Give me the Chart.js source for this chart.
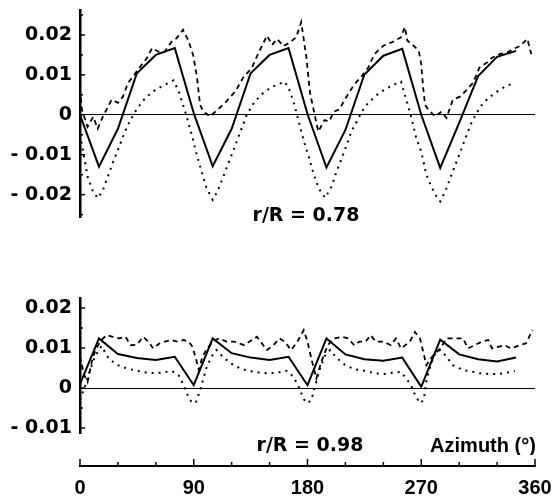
<!DOCTYPE html>
<html>
<head>
<meta charset="utf-8">
<script src="https://cdn.jsdelivr.net/npm/chart.js@4.4.1/dist/chart.umd.min.js"></script>
<style>
  html, body { margin: 0; padding: 0; background: #fff; }
  #wrap { position: relative; width: 557px; height: 499px; }
  canvas { position: absolute; left: 0; }
</style>
</head>
<body>
<div id="wrap">
  <canvas id="cTop" width="557" height="232" style="top:0px"></canvas>
  <canvas id="cBot" width="557" height="170" style="top:285px"></canvas>
  <canvas id="cAxis" width="557" height="54" style="top:445px"></canvas>
</div>
<script>
// r/R = 0.78
const azSolid78 = [0, 15, 30, 45, 60, 75, 90, 105, 120, 135, 150, 165, 180, 195, 210, 225, 240, 255, 270, 285, 300, 315, 330, 345];
const valSolid78 = [0, -0.0130, -0.0035, 0.0104, 0.0150, 0.0167, 0.0004, -0.0129, -0.0035, 0.0104, 0.0150, 0.0167, 0.0002, -0.0132, -0.0038, 0.0101, 0.0148, 0.0165, 0.0000, -0.0133, -0.0020, 0.0097, 0.0145, 0.0160];

const azDash78 = [0, 1.5, 6, 10.5, 14, 18, 21, 25, 30, 34, 38, 42, 47.5, 53, 57, 62, 67, 72.5, 76.5, 81.5, 85.5, 89.5, 92.5, 95, 97.5, 103, 109, 116, 123, 129, 136, 142, 148, 152, 156, 161, 166, 171, 175, 179, 182, 188.5, 193.5, 197, 201, 205, 211, 217, 222, 228, 233, 240, 247, 254, 257, 259, 264, 268, 270, 271.5, 273, 275.5, 281, 286, 290, 295, 301, 305, 311, 316, 322, 326, 332, 338, 343, 348, 354, 357];
const valDash78 = [0.0065, 0.0013, -0.0030, -0.0005, -0.0035, -0.0005, 0.0013, 0.0038, 0.0030, 0.0046, 0.0080, 0.0096, 0.0120, 0.0142, 0.0167, 0.0158, 0.0158, 0.0183, 0.0192, 0.0213, 0.0188, 0.0150, 0.0096, 0.0025, 0.0008, -0.0004, 0.0013, 0.0034, 0.0059, 0.0093, 0.0118, 0.0160, 0.0198, 0.0175, 0.0190, 0.0172, 0.0181, 0.0194, 0.0232, 0.0147, 0.0055, -0.0042, -0.0013, -0.0017, 0.0008, 0.0013, 0.0046, 0.0076, 0.0093, 0.0118, 0.0152, 0.0173, 0.0182, 0.0194, 0.0220, 0.0186, 0.0173, 0.0160, 0.0127, 0.0068, 0.0025, 0.0013, -0.0004, 0.0008, -0.0008, 0.0038, 0.0046, 0.0059, 0.0080, 0.0118, 0.0131, 0.0143, 0.0152, 0.0156, 0.0165, 0.0172, 0.0190, 0.0152];

const azDot78 = [0, 3, 6, 10, 14, 18, 22, 26, 30, 34, 38, 43, 50, 57, 65, 74, 78, 81, 84, 88, 92, 96, 100, 105, 109, 113, 117, 121, 125, 129, 132, 138, 145, 152, 162, 166, 169, 173, 177, 181, 185, 189, 194, 199, 203, 207, 211, 215, 219, 223, 228, 235, 241, 248, 254, 257, 260, 263, 266, 270, 274, 278, 282, 285, 289, 293, 297, 301, 305, 309, 313, 318, 323, 330, 336, 342];
const valDot78 = [-0.0050, -0.0100, -0.0155, -0.0190, -0.0209, -0.0190, -0.0155, -0.0120, -0.0088, -0.0055, -0.0025, 0.0005, 0.0036, 0.0057, 0.0072, 0.0086, 0.0060, 0.0030, 0.0000, -0.0045, -0.0095, -0.0140, -0.0182, -0.0213, -0.0190, -0.0158, -0.0125, -0.0092, -0.0058, -0.0025, 0.0000, 0.0032, 0.0055, 0.0070, 0.0083, 0.0060, 0.0032, -0.0015, -0.0065, -0.0105, -0.0150, -0.0185, -0.0208, -0.0180, -0.0142, -0.0110, -0.0075, -0.0040, -0.0017, 0.0008, 0.0030, 0.0050, 0.0063, 0.0075, 0.0083, 0.0050, 0.0017, -0.0017, -0.0058, -0.0092, -0.0150, -0.0180, -0.0204, -0.0217, -0.0192, -0.0158, -0.0125, -0.0092, -0.0058, -0.0025, 0.0000, 0.0025, 0.0042, 0.0058, 0.0070, 0.0078];

// r/R = 0.98
const azSolid98 = [0, 15, 30, 45, 60, 75, 90, 105, 120, 135, 150, 165, 180, 195, 210, 225, 240, 255, 270, 285, 300, 315, 330, 345];
const valSolid98 = [0.0010, 0.0124, 0.0085, 0.0075, 0.0070, 0.0078, 0.0007, 0.0124, 0.0087, 0.0076, 0.0070, 0.0078, 0.0007, 0.0124, 0.0084, 0.0072, 0.0068, 0.0076, 0.0003, 0.0121, 0.0084, 0.0072, 0.0066, 0.0076];

const azDash98 = [0, 3, 6, 10, 13, 17, 21, 26, 31, 36, 40, 45, 50, 54, 58, 63, 67, 72, 77, 82, 86, 89, 92, 94, 97, 101, 105, 110, 116, 122, 130, 136, 140, 145, 148, 153, 158, 162, 167, 172, 177, 180, 183, 187, 191, 196, 201, 207, 212, 217, 221, 226, 230, 234, 240, 246, 250, 254, 261, 265, 269, 272, 274, 279, 285, 290, 297, 303, 307, 312, 318, 323, 326, 331, 336, 341, 348, 353, 356, 358];
const valDash98 = [0.0080, 0.0035, 0.0015, 0.0075, 0.0100, 0.0120, 0.0132, 0.0128, 0.0124, 0.0128, 0.0107, 0.0108, 0.0128, 0.0116, 0.0099, 0.0112, 0.0116, 0.0120, 0.0116, 0.0120, 0.0116, 0.0103, 0.0070, 0.0045, 0.0080, 0.0100, 0.0116, 0.0124, 0.0116, 0.0116, 0.0107, 0.0120, 0.0128, 0.0107, 0.0095, 0.0107, 0.0124, 0.0116, 0.0095, 0.0116, 0.0145, 0.0116, 0.0074, 0.0024, 0.0066, 0.0107, 0.0124, 0.0128, 0.0124, 0.0107, 0.0116, 0.0116, 0.0132, 0.0116, 0.0116, 0.0107, 0.0124, 0.0099, 0.0116, 0.0140, 0.0124, 0.0085, 0.0057, 0.0080, 0.0099, 0.0124, 0.0124, 0.0124, 0.0099, 0.0107, 0.0116, 0.0120, 0.0099, 0.0103, 0.0107, 0.0099, 0.0107, 0.0112, 0.0132, 0.0145];

const azDot98 = [0, 4, 8, 12, 17, 23, 30, 37, 45, 52, 59, 66, 72.5, 78, 82, 86, 89, 92, 96, 100, 104, 108, 113, 119, 126, 133, 141, 148, 156, 163.5, 169, 173, 177, 180, 183, 186, 190, 194, 198, 203, 210, 217, 225, 233, 241, 249, 254, 258, 262, 265, 269, 272, 274, 277, 281, 285, 289, 295, 303, 310, 316, 323, 330, 336, 344];
const valDot98 = [-0.0030, 0.0005, 0.0045, 0.0080, 0.0105, 0.0072, 0.0057, 0.0049, 0.0043, 0.0039, 0.0037, 0.0039, 0.0043, 0.0032, 0.0007, -0.0025, -0.0038, -0.0034, 0.0005, 0.0050, 0.0078, 0.0095, 0.0078, 0.0062, 0.0050, 0.0043, 0.0039, 0.0037, 0.0038, 0.0043, 0.0028, 0.0003, -0.0028, -0.0038, -0.0030, 0.0005, 0.0050, 0.0082, 0.0095, 0.0075, 0.0057, 0.0047, 0.0043, 0.0037, 0.0035, 0.0039, 0.0040, 0.0024, 0.0007, -0.0017, -0.0038, -0.0030, 0.0016, 0.0053, 0.0087, 0.0095, 0.0082, 0.0057, 0.0045, 0.0041, 0.0037, 0.0035, 0.0035, 0.0037, 0.0043];

const azTicks = [0, 90, 180, 270, 360];

const pts = (az, val) => az.map((a, i) => ({ x: a, y: val[i] }));

const tickFont = { family: "'DejaVu Sans', sans-serif", weight: "bold", size: 19 };
const axisFont = { family: "'Liberation Sans', Arial, sans-serif", weight: "bold", size: 20 };

const isStep = (v, step) => Math.abs(v / step - Math.round(v / step)) < 1e-6;

const fmtY = (v) => {
  if (!isStep(v, 0.01)) return "";
  const r = Math.round(v * 100);
  if (r === 0) return "0";
  const s = (Math.abs(r) / 100).toFixed(2);
  return r < 0 ? "- " + s : s;
};

// tick marks pointing into the plot
const tickMarks = {
  id: "tickMarks",
  afterDraw(chart, args, opts) {
    const sc = chart.scales[opts.scale];
    if (!sc) return;
    const ctx = chart.ctx;
    ctx.save();
    ctx.strokeStyle = "#000";
    ctx.lineWidth = 1.5;
    sc.ticks.forEach((t) => {
      const len = isStep(t.value, opts.majorStep) ? opts.major : opts.minor;
      const p = sc.getPixelForValue(t.value);
      ctx.beginPath();
      if (sc.isHorizontal()) {
        ctx.moveTo(p, sc.top);
        ctx.lineTo(p, sc.top - len);
      } else {
        ctx.moveTo(sc.right, p);
        ctx.lineTo(sc.right + len, p);
      }
      ctx.stroke();
    });
    ctx.restore();
  },
};

const notes = {
  id: "notes",
  afterDraw(chart, args, opts) {
    const ctx = chart.ctx;
    ctx.save();
    ctx.fillStyle = "#000";
    ctx.textBaseline = "middle";
    (opts.items || []).forEach((n) => {
      ctx.font = n.font;
      ctx.textAlign = n.align || "center";
      ctx.fillText(n.text, n.x, n.y);
    });
    ctx.restore();
  },
};

const lineSets = (solid, dash, dot) => [
  {
    data: dot,
    borderColor: "#000",
    borderWidth: 2,
    borderDash: [2, 5],
    pointRadius: 0,
    tension: 0,
  },
  {
    data: dash,
    borderColor: "#000",
    borderWidth: 1.8,
    borderDash: [5, 4],
    pointRadius: 0,
    tension: 0,
  },
  {
    data: solid,
    borderColor: "#000",
    borderWidth: 2,
    pointRadius: 0,
    tension: 0,
  },
];

const noEdgePad = (s) => {
  s.paddingTop = 0;
  s.paddingBottom = 0;
  s.paddingLeft = 0;
  s.paddingRight = 0;
};

const panel = (canvasId, sets, yMin, yMax, pad, noteItems) =>
  new Chart(document.getElementById(canvasId), {
    type: "line",
    data: { datasets: sets },
    plugins: [tickMarks, notes],
    options: {
      responsive: false,
      animation: false,
      events: [],
      layout: { padding: pad },
      plugins: {
        legend: { display: false },
        tooltip: { enabled: false },
        tickMarks: { scale: "y", majorStep: 0.01, major: 5, minor: 3 },
        notes: { items: noteItems },
      },
      scales: {
        x: { type: "linear", min: 0, max: 360, display: false },
        y: {
          min: yMin,
          max: yMax,
          border: { display: true, color: "#000", width: 2.5 },
          grid: {
            drawTicks: false,
            lineWidth: 1,
            color: (c) => (c.tick && Math.abs(c.tick.value) < 1e-9 ? "#000" : "rgba(0,0,0,0)"),
          },
          ticks: {
            stepSize: 0.005,
            includeBounds: false,
            autoSkip: false,
            padding: 8,
            color: "#000",
            font: tickFont,
            callback: fmtY,
          },
          afterFit: (s) => {
            s.width = 80;
            noEdgePad(s);
          },
        },
      },
    },
  });

Chart.defaults.font.family = "'DejaVu Sans', sans-serif";

panel(
  "cTop",
  lineSets(pts(azSolid78, valSolid78), pts(azDash78, valDash78), pts(azDot78, valDot78)),
  -0.0256, 0.02625,
  { left: 0, right: 22, top: 10, bottom: 15 },
  [{ text: "r/R = 0.78", x: 306, y: 216, font: "bold 19px 'DejaVu Sans'" }],
);

panel(
  "cBot",
  lineSets(pts(azSolid98, valSolid98), pts(azDash98, valDash98), pts(azDot98, valDot98)),
  -0.01125, 0.0225,
  { left: 0, right: 22, top: 13, bottom: 22 },
  [
    { text: "r/R = 0.98", x: 310, y: 161, font: "bold 19px 'DejaVu Sans'" },
    { text: "Azimuth (°)", x: 483, y: 161, font: "bold 20px 'Liberation Sans'" },
  ],
);

// shared azimuth axis
new Chart(document.getElementById("cAxis"), {
  type: "line",
  data: { datasets: [] },
  plugins: [tickMarks],
  options: {
    responsive: false,
    animation: false,
    events: [],
    layout: { padding: { left: 80, right: 22, top: 5, bottom: 0 } },
    plugins: {
      legend: { display: false },
      tooltip: { enabled: false },
      tickMarks: { scale: "x", majorStep: 90, major: 7, minor: 4 },
    },
    scales: {
      y: { display: false, min: 0, max: 1 },
      x: {
        type: "linear",
        min: 0,
        max: 360,
        border: { display: true, color: "#000", width: 2 },
        grid: { display: false, drawTicks: false },
        ticks: {
          stepSize: 30,
          autoSkip: false,
          maxRotation: 0,
          padding: 10,
          color: "#000",
          font: axisFont,
          callback: (v) => (azTicks.includes(v) ? String(v) : ""),
        },
        afterFit: (s) => {
          s.height = 33;
          noEdgePad(s);
        },
      },
    },
  },
});
</script>
</body>
</html>
